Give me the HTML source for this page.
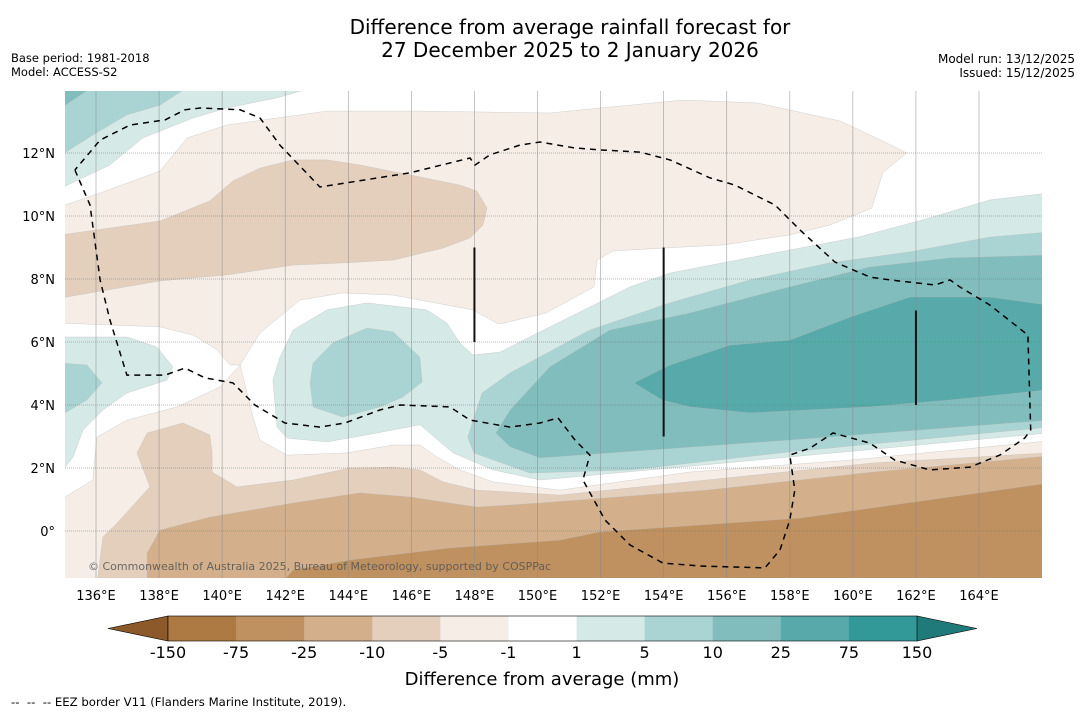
<!DOCTYPE html>
<html><head><meta charset="utf-8">
<style>
html,body{margin:0;padding:0;background:#fff;}
svg{display:block;font-family:"DejaVu Sans","Liberation Sans",sans-serif;}
.pre{white-space:pre;}
</style></head>
<body>
<svg id="root" width="1085" height="713" viewBox="0 0 1085 713" xmlns="http://www.w3.org/2000/svg">
<defs><clipPath id="mapclip"><rect x="65" y="91" width="977" height="487"/></clipPath></defs>
<text x="570" y="34" font-size="20" text-anchor="middle" fill="#000">Difference from average rainfall forecast for</text>
<text x="570" y="57" font-size="20" text-anchor="middle" fill="#000">27 December 2025 to 2 January 2026</text>
<text x="11" y="62" font-size="11.5" fill="#000">Base period: 1981-2018</text>
<text x="11" y="76" font-size="11.5" fill="#000">Model: ACCESS-S2</text>
<text x="1075" y="63" font-size="12" text-anchor="end" fill="#000">Model run: 13/12/2025</text>
<text x="1075" y="77" font-size="12" text-anchor="end" fill="#000">Issued: 15/12/2025</text>
<g id="map" clip-path="url(#mapclip)"></g>
<g id="grid"></g>
<g id="eez"></g>
<g id="ticks"></g>
<text x="88" y="570" font-size="11" fill="#555" fill-opacity="0.85">© Commonwealth of Australia 2025, Bureau of Meteorology, supported by COSPPac</text>
<g id="cbar"></g>
<text x="542" y="685" font-size="18" text-anchor="middle" fill="#000">Difference from average (mm)</text>
<text x="11" y="706" font-size="11.7" fill="#000" class="pre" xml:space="preserve">--  --  -- EEZ border V11 (Flanders Marine Institute, 2019).</text>
</svg>
<script>
// ---- data ----
const lonTicks = [136,138,140,142,144,146,148,150,152,154,156,158,160,162,164];
const latTicks = [0,2,4,6,8,10,12];
const levelLabels = ["-150","-75","-25","-10","-5","-1","1","5","10","25","75","150"];
const levelColors = ["#ae7a44","#bf9160","#d3b08b","#e4cfbd","#f5ede6","#ffffff","#d5e9e7","#aad4d3","#80bdbc","#58a9aa","#339898"];
const extendLow = "#8c5a2a";
const extendHigh = "#217a7a";

const northBeige = [[135.02,10.35],[136.13,10.73],[138.03,11.43],[138.89,12.48],[140.15,12.89],[143.32,13.33],[146.27,13.33],[150.39,13.27],[151.98,13.43],[154.61,13.68],[156.96,13.59],[159.59,13.02],[160.95,12.38],[161.71,12.0],[160.95,11.37],[160.6,10.25],[159.27,9.71],[158.0,9.4],[155.88,9.08],[153.98,8.98],[152.39,8.89],[151.88,8.6],[151.79,7.75],[150.27,6.92],[148.81,6.57],[148.71,6.6],[147.95,7.02],[145.42,7.49],[143.83,7.56],[142.47,7.33],[141.2,6.29],[140.57,5.27],[140.25,5.27],[139.84,5.75],[139.08,6.22],[138.03,6.48],[134.9,6.6],[134.9,10.35]];
const southBeige = [[134.9,1.08],[135.02,1.08],[135.9,1.62],[136.03,2.98],[136.98,3.52],[138.57,3.94],[139.93,4.57],[140.57,5.27],[140.98,3.62],[141.2,2.89],[142.06,2.41],[143.96,2.48],[145.42,2.73],[146.27,2.73],[146.81,2.35],[147.54,1.94],[148.59,1.56],[150.71,1.3],[154.81,1.87],[159.91,2.25],[166.2,2.86],[166.2,-1.7],[134.9,-1.7]];
const tanNorth = [[134.9,9.4],[138.03,9.84],[139.61,10.48],[140.34,11.11],[141.2,11.52],[142.25,11.78],[143.32,11.78],[144.37,11.62],[145.96,11.3],[147.54,10.98],[148.08,10.79],[148.4,10.25],[148.27,9.71],[147.86,9.3],[147.0,8.98],[145.42,8.6],[143.83,8.51],[142.25,8.44],[140.15,8.13],[138.03,7.94],[134.9,7.4]];
const tanSouth = [[136.03,-1.7],[136.22,-0.19],[136.67,0.25],[137.71,1.4],[137.3,2.48],[137.62,3.11],[138.76,3.43],[139.61,3.05],[139.68,2.48],[139.68,1.87],[140.47,1.4],[142.25,1.62],[144.05,2.0],[145.42,2.03],[146.27,1.94],[147.0,1.56],[148.08,1.3],[150.71,1.14],[155.37,1.62],[160.64,2.16],[166.2,2.48],[166.2,-1.7]];
const brown25 = [[137.62,-1.7],[137.62,-0.7],[138.03,0.03],[139.61,0.44],[142.25,0.89],[144.37,1.21],[145.96,1.08],[148.08,0.76],[150.08,0.89],[155.37,1.3],[160.64,1.87],[166.2,2.38],[166.2,-1.7]];
const brown75 = [[141.83,-1.7],[142.25,-1.24],[144.05,-0.92],[147.22,-0.54],[150.71,-0.29],[151.98,-0.03],[158.32,0.41],[166.2,1.52],[166.2,-1.7]];
const tealTL1 = [[134.9,14.2],[143.32,14.2],[141.74,13.75],[140.15,13.43],[139.08,13.11],[137.49,12.48],[136.44,11.62],[134.9,10.89]];
const tealTL2 = [[134.9,14.2],[139.08,14.2],[138.03,13.52],[136.98,13.21],[135.9,12.57],[134.9,11.94]];
const tealTL3 = [[134.9,14.2],[136.03,14.2],[134.9,13.43]];
const tealLeft1 = [[134.9,6.16],[136.98,6.16],[137.93,5.84],[138.44,5.21],[138.25,4.79],[136.98,4.38],[136.22,3.84],[135.59,3.21],[135.27,2.35],[134.9,1.87]];
const tealLeft2 = [[134.9,5.33],[135.71,5.27],[136.19,4.7],[135.71,4.16],[134.9,3.68]];
const tealBand1 = [[141.61,4.79],[141.83,5.52],[142.25,6.38],[143.32,7.02],[144.59,7.24],[146.49,7.02],[147.13,6.6],[147.54,5.97],[147.95,5.59],[148.81,5.68],[150.01,6.29],[151.66,7.11],[152.93,7.75],[154.2,8.19],[158.0,8.92],[160.16,9.33],[162.19,9.87],[164.35,10.51],[166.2,10.73],[166.2,3.11],[158.0,2.35],[150.08,1.62],[148.59,1.94],[147.32,2.48],[146.27,3.37],[144.91,3.11],[143.32,2.83],[142.06,2.95],[141.74,3.3]];
const tealBlob2 = [[142.79,4.7],[142.88,5.33],[143.51,5.97],[144.59,6.44],[145.42,6.32],[146.27,5.52],[146.34,4.73],[145.73,4.25],[145.0,3.94],[143.83,3.62],[142.88,3.94]];
const tealBand2 = [[147.79,2.98],[148.24,4.38],[149.13,5.02],[151.66,6.38],[154.2,7.24],[156.74,7.97],[159.27,8.51],[161.81,8.86],[164.35,9.33],[166.2,9.49],[166.2,3.3],[158.0,2.51],[152.93,1.94],[149.76,1.84],[147.98,2.48]];
const tealBand3 = [[148.68,3.11],[149.13,3.84],[150.39,5.21],[152.3,6.38],[154.83,6.92],[158.0,7.75],[160.54,8.38],[163.08,8.67],[166.2,8.76],[166.2,3.52],[158.0,2.89],[150.08,2.32],[149.13,2.67]];
const tealBand4 = [[153.06,4.7],[154.2,5.27],[156.1,5.9],[158.0,6.06],[159.91,6.79],[161.81,7.43],[164.35,7.43],[166.2,7.17],[166.2,4.48],[163.08,4.16],[160.54,3.94],[156.74,3.75],[154.83,3.94],[153.95,4.16]];
const eezLine = [[135.33,11.46],[135.81,10.35],[136.13,7.97],[136.44,6.7],[136.98,4.95],[138.19,4.95],[138.82,5.17],[139.46,4.86],[140.34,4.7],[141.04,4.0],[141.99,3.43],[143.1,3.3],[143.89,3.43],[145.0,3.84],[145.64,4.0],[147.22,3.94],[147.86,3.52],[149.13,3.3],[150.08,3.43],[150.65,3.59],[151.19,2.89],[151.66,2.41],[151.44,1.62],[152.14,0.35],[152.93,-0.44],[153.98,-1.02],[155.15,-1.11],[157.21,-1.17],[157.69,-0.6],[158.0,0.35],[158.16,1.3],[158.0,2.41],[158.64,2.63],[159.37,3.11],[160.54,2.79],[161.33,2.25],[162.44,1.94],[163.71,2.03],[164.66,2.41],[165.45,2.95],[165.64,3.21],[165.55,6.22],[164.35,7.17],[163.39,7.75],[163.08,7.97],[162.6,7.81],[161.17,7.97],[160.54,8.06],[159.43,8.54],[158.32,9.56],[157.53,10.35],[156.26,10.98],[155.47,11.21],[154.2,11.78],[153.25,12.03],[151.98,12.1],[151.19,12.16],[150.08,12.35],[149.44,12.25],[148.49,11.94],[148.02,11.62],[147.86,11.84],[145.96,11.37],[143.1,10.92],[141.83,12.25],[141.2,13.11],[140.57,13.37],[139.3,13.43],[138.82,13.37],[138.19,13.05],[137.08,12.89],[136.13,12.41],[135.33,11.46]];
const boundaryLons = [148,154,162];
const boundaryLatTop = [9,9,7];
const boundaryLatBot = [6,3,4];

// ---- projection ----
const NS = "http://www.w3.org/2000/svg";
function X(lon){ return 96 + (lon-136)*31.536; }
function Y(lat){ return 531 - lat*31.5; }
function pts(arr){ return arr.map(p => X(p[0]).toFixed(1)+","+Y(p[1]).toFixed(1)).join(" "); }
function mk(tag, attrs, parent){ const e=document.createElementNS(NS,tag); for(const k in attrs) e.setAttribute(k,attrs[k]); parent.appendChild(e); return e; }

const map = document.getElementById('map');
const bg = mk('rect',{x:65,y:91,width:977,height:487,fill:'#ffffff'},map);



const layers = [
  ['north-dry-region-minus1', northBeige, levelColors[4]],
  ['south-dry-region-minus1', southBeige, levelColors[4]],
  ['north-dry-region-minus5', tanNorth, levelColors[3]],
  ['south-dry-region-minus5', tanSouth, levelColors[3]],
  ['south-dry-region-minus10', brown25, levelColors[2]],
  ['south-dry-region-minus25', brown75, levelColors[1]],
  ['northwest-wet-region-1', tealTL1, levelColors[6]],
  ['northwest-wet-region-5', tealTL2, levelColors[7]],
  ['northwest-wet-region-10', tealTL3, levelColors[8]],
  ['west-wet-region-1', tealLeft1, levelColors[6]],
  ['west-wet-region-5', tealLeft2, levelColors[7]],
  ['central-wet-band-1', tealBand1, levelColors[6]],
  ['central-wet-blob-5', tealBlob2, levelColors[7]],
  ['east-wet-band-5', tealBand2, levelColors[7]],
  ['east-wet-band-10', tealBand3, levelColors[8]],
  ['east-wet-band-25', tealBand4, levelColors[9]]
];
layers.forEach(l => {
  const p = mk('polygon',{points:pts(l[1]),fill:l[2],stroke:'#b8b8b8','stroke-width':0.5,'stroke-opacity':0.6},map);
  
  
});

// graticule
const grid = document.getElementById('grid');
lonTicks.forEach(lon => {
  const ln = mk('line',{x1:X(lon),x2:X(lon),y1:91,y2:578,stroke:'#8a8a8a','stroke-width':0.7,'stroke-opacity':0.7},grid);
  
  
});
latTicks.forEach(lat => {
  const ln = mk('line',{x1:65,x2:1042,y1:Y(lat),y2:Y(lat),stroke:'#777','stroke-width':0.8,'stroke-dasharray':'1,1','stroke-opacity':0.7},grid);
  
  
});

// EEZ
const eez = document.getElementById('eez');
const eezp = mk('polyline',{points:pts(eezLine),fill:'none',stroke:'#000','stroke-width':1.5,'stroke-dasharray':'6,5'},eez);


boundaryLons.forEach((lon,i) => {
  const b = mk('line',{x1:X(lon),x2:X(lon),y1:Y(boundaryLatTop[i]),y2:Y(boundaryLatBot[i]),stroke:'#111','stroke-width':2},eez);
  
  
});

// tick labels
const ticks = document.getElementById('ticks');
lonTicks.forEach(lon => {
  const t = mk('text',{x:X(lon),y:600,'font-size':13,'text-anchor':'middle',fill:'#000'},ticks);
  t.textContent = lon+"°E";
  
  
});
latTicks.forEach(lat => {
  const t = mk('text',{x:55,y:Y(lat)+5,'font-size':13,'text-anchor':'end',fill:'#000'},ticks);
  t.textContent = lat===0 ? "0°" : lat+"°N";
  
  
});

// colorbar
const cb = document.getElementById('cbar');
const cbX0 = 168, cbX1 = 917, cbY = 616, cbH = 25, triW = 60;
const bw = (cbX1-cbX0)/levelColors.length;
const lt = mk('polygon',{points:`${cbX0-triW},${cbY+cbH/2} ${cbX0},${cbY} ${cbX0},${cbY+cbH}`,fill:extendLow,stroke:'#000','stroke-width':0.6},cb);


const rt = mk('polygon',{points:`${cbX1+triW},${cbY+cbH/2} ${cbX1},${cbY} ${cbX1},${cbY+cbH}`,fill:extendHigh,stroke:'#000','stroke-width':0.6},cb);


levelColors.forEach((c,i) => {
  const r = mk('rect',{x:cbX0+i*bw,y:cbY,width:bw+0.3,height:cbH,fill:c},cb);
  
  
});
const frame = mk('rect',{x:cbX0,y:cbY,width:cbX1-cbX0,height:cbH,fill:'none',stroke:'#000','stroke-width':0.6},cb);


levelLabels.forEach((lab,i) => {
  const t = mk('text',{x:cbX0+i*bw,y:658,'font-size':16,'text-anchor':'middle',fill:'#000'},cb);
  t.textContent = lab;
  
  
});
</script>
</body></html>
